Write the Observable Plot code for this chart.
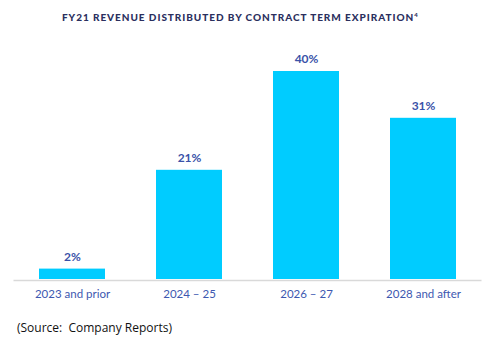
<!DOCTYPE html>
<html>
<head>
<meta charset="utf-8">
<script src="https://cdn.jsdelivr.net/npm/d3@7"></script>
<script src="https://cdn.jsdelivr.net/npm/@observablehq/plot@0.6"></script>
<style>
  html, body { margin: 0; padding: 0; background: #fff; width: 497px; height: 344px; overflow: hidden; }
  #title { height: 29px; line-height: 29px; text-align: left; padding-left: 62px; font-family: Lato, "Open Sans", sans-serif; font-weight: 900; font-size: 10px; letter-spacing: 0.95px; color: #2b2f5e; white-space: nowrap; }
  #title sup { font-size: 6px; vertical-align: 4px; letter-spacing: 0; }
  #chart { height: 270px; margin-top: 1px; }
  #source { height: 44px; padding-left: 17px; font-family: "Open Sans", "Liberation Sans", sans-serif; font-size: 12px; color: #111; line-height: 56px; }
</style>
</head>
<body>
<div id="title">FY21 REVENUE DISTRIBUTED BY CONTRACT TERM EXPIRATION<sup>4</sup></div>
<div id="chart"></div>
<div id="source">(Source:&nbsp; Company Reports)</div>
<script>
const categories = ["2023 and prior", "2024 – 25", "2026 – 27", "2028 and after"];
const shares = [2, 21, 40, 31];
const data = categories.map((c, i) => ({category: c, share: shares[i]}));

const chart = Plot.plot({
  width: 497,
  height: 270,
  marginLeft: 13.5,
  marginRight: 15.5,
  marginTop: 41,
  marginBottom: 21,
  style: {fontFamily: "Lato, 'Open Sans', sans-serif", background: "#fff"},
  x: {domain: categories, paddingInner: 0.436, paddingOuter: 0.218, label: null},
  y: {domain: [0, 40], axis: null},
  marks: [
    Plot.barY(data, {x: "category", y: "share", fill: "#00ccff"}),
    Plot.ruleY([0], {stroke: "#d9d9d9", strokeWidth: 1.5, dy: 1}),
    Plot.text(data, {x: "category", y: "share", text: d => d.share + "%", dy: -12, fill: "#3a52a8", fontWeight: "bold", fontSize: 12}),
    Plot.axisX({tickSize: 0, tickPadding: 10, fontSize: 11.5, color: "#3d58b0", label: null})
  ]
});
document.getElementById("chart").appendChild(chart);
</script>
</body>
</html>
